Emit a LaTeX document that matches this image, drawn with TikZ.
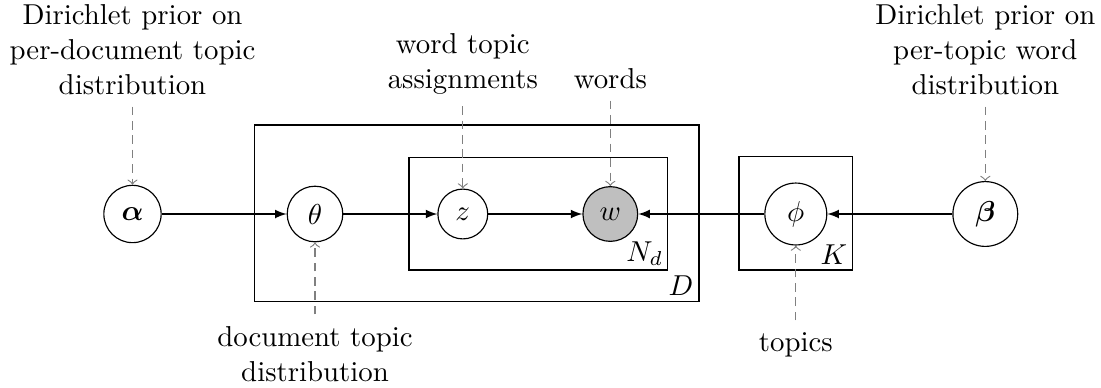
\documentclass[tikz,border=0pt]{standalone}
\usepackage{amsmath}
\begin{document}
\begin{tikzpicture}[x=0.34722pt,y=-0.34722pt,
  rv/.style={circle,draw,inner sep=0pt},
  obs/.style={rv,fill=gray!50},
  plate/.style={draw,inner sep=0pt},
  platelbl/.style={anchor=south east,inner sep=2pt},
  lbl/.style={align=center,inner sep=0pt},
  edge/.style={-latex},
  ann/.style={->,gray,densely dashed,shorten <=4pt}]
\useasboundingbox (0,0) rectangle (1101,387);
% plates
\node[plate,minimum width=154.4pt,minimum height=61.35pt] (Dp) at (476.7,213.4) {};
\node[plate,minimum width=89.7pt,minimum height=39.1pt] (Np) at (538.2,213.7) {};
\node[plate,minimum width=39.5pt,minimum height=39.3pt] (Kp) at (795.9,213.4) {};
\node[platelbl,inner sep=1.5pt] (Nl) at (Np.south east) {$N_d$};
\node[platelbl] (Dl) at (Dp.south east) {$D$};
\node[platelbl] (Kl) at (Kp.south east) {$K$};
% variables
\node[rv,minimum size=19.9pt] (alpha) at (132.5,214) {$\boldsymbol{\alpha}$};
\node[rv,minimum size=19.3pt] (theta) at (315,214) {$\theta$};
\node[rv,minimum size=17.3pt] (z) at (462.8,214) {$z$};
\node[obs,minimum size=19.0pt] (w) at (610.3,214) {$w$};
\node[rv,minimum size=21.5pt] (phi) at (795.8,214) {$\phi$};
\node[rv,minimum size=22.5pt] (beta) at (985.3,214) {$\boldsymbol{\beta}$};
% edges
\draw[edge] (alpha) -- (theta);
\draw[edge] (theta) -- (z);
\draw[edge] (z) -- (w);
\draw[edge] (phi) -- (w);
\draw[edge] (beta) -- (phi);
% annotations
\node[lbl,anchor=south] (ta) at (132.5,95) {Dirichlet prior on\\per-document topic\\distribution};
\node[lbl,anchor=south] (tb) at (985.3,95) {Dirichlet prior on\\per-topic word\\distribution};
\node[lbl,anchor=south] (tz) at (462.8,94.6) {word topic\\assignments};
\node[lbl,anchor=south] (tw) at (610.3,89) {words};
\node[lbl,anchor=north] (tt) at (315,326) {document topic\\distribution};
\node[lbl,anchor=north] (tp) at (795.8,332) {topics};
\draw[ann] (ta) -- (alpha);
\draw[ann] (tb) -- (beta);
\draw[ann] (tz) -- (z);
\draw[ann] (tw) -- (w);
\draw[ann] (tt) -- (theta);
\draw[ann] (tp) -- (phi);
\end{tikzpicture}
\end{document}
